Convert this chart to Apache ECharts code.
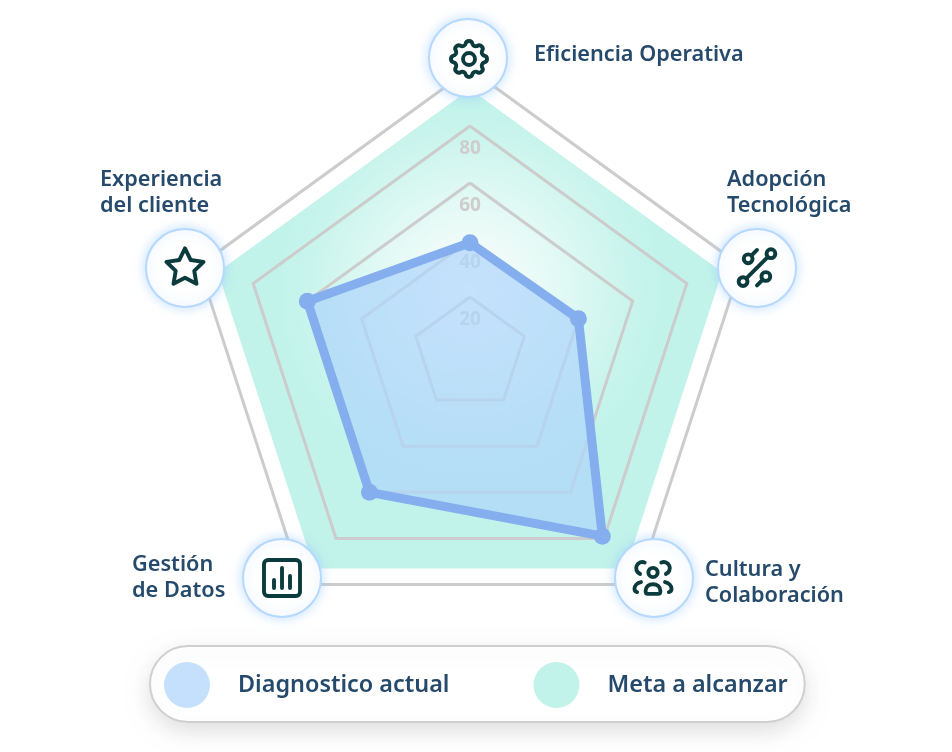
<!DOCTYPE html>
<html><head><meta charset="utf-8">
<style>html,body{margin:0;padding:0;background:#fff}#c{width:952px;height:752px}</style>
<script src="https://cdn.jsdelivr.net/npm/echarts@6/dist/echarts.min.js"></script>
</head><body><div id="c"></div>
<script>
// Data
const categories = ['Eficiencia Operativa','Experiencia\ndel cliente','Gestión\nde Datos','Cultura y\nColaboración','Adopción\nTecnológica'];
const diagnosticoActual = [39, 60, 60, 79, 40];
const metaAlcanzar = [93, 93, 93, 93, 93];
const axisMax = 100;
const tickLabels = ['20','40','60','80'];
const seriesNames = ['Diagnostico actual','Meta a alcanzar'];

// Style / layout
const TEXT = '#264a6b', ICON = '#0c3b3e', RING = '#cccccc', FONT = '"Noto Sans", sans-serif';
const labelLayout = [[534,55],[100,193],[132,578],[705,583],[727,193]];
const iconLayout = [[468,58],[185,268],[282,578],[654,578],[757,268]];
const iconOffset = [[1,1],[0,-1],[0,0],[-1,0],[0,0]];
const iconScale = [2,1.86,2,1.85,1.7];
const iconPaths = [
 'M10.325 4.317c.426 -1.756 2.924 -1.756 3.35 0a1.724 1.724 0 0 0 2.573 1.066c1.543 -.94 3.31 .826 2.37 2.37a1.724 1.724 0 0 0 1.065 2.572c1.756 .426 1.756 2.924 0 3.35a1.724 1.724 0 0 0 -1.066 2.573c.94 1.543 -.826 3.31 -2.37 2.37a1.724 1.724 0 0 0 -2.572 1.065c-.426 1.756 -2.924 1.756 -3.35 0a1.724 1.724 0 0 0 -2.573 -1.066c-1.543 .94 -3.31 -.826 -2.37 -2.37a1.724 1.724 0 0 0 -1.065 -2.572c-1.756 -.426 -1.756 -2.924 0 -3.35a1.724 1.724 0 0 0 1.066 -2.573c-.94 -1.543 .826 -3.31 2.37 -2.37c1 .608 2.296 .07 2.572 -1.065z M9 12a3 3 0 1 0 6 0a3 3 0 1 0 -6 0',
 'M12 17.75l-6.172 3.245l1.179 -6.873l-5 -4.867l6.9 -1l3.086 -6.253l3.086 6.253l6.9 1l-5 4.867l1.179 6.873z',
 'M3 5a2 2 0 0 1 2-2h14a2 2 0 0 1 2 2v14a2 2 0 0 1-2 2H5a2 2 0 0 1-2-2z M8 13v4 M12 7v10 M16 11v6',
 'M9.5 9a2.5 2.5 0 1 0 5 0a2.5 2.5 0 1 0 -5 0 M8 19c0-2.2 1.8-3.6 4-3.6s4 1.4 4 3.6c0 1-.5 1.6-1.2 1.6h-5.6c-.7 0-1.2-.6-1.2-1.6z M7.5 3.6a3.2 3.2 0 0 0 -2.5 6.2 M16.5 3.6a3.2 3.2 0 0 1 2.5 6.2 M5.5 14.2c-2 .4-3.5 2-3.5 3.6c0 .9.5 1.6 1.4 1.8 M18.5 14.2c2 .4 3.5 2 3.5 3.6c0 .9-.5 1.6-1.4 1.8',
 'M4.2 6.6a2.6 2.6 0 1 0 5.2 0a2.6 2.6 0 1 0 -5.2 0 M17.6 3.6a2.6 2.6 0 1 0 5.2 0a2.6 2.6 0 1 0 -5.2 0 M1.2 20a2.6 2.6 0 1 0 5.2 0a2.6 2.6 0 1 0 -5.2 0 M14.6 17a2.6 2.6 0 1 0 5.2 0a2.6 2.6 0 1 0 -5.2 0 M8.7 4.7L12 1.4 M18.4 5.4L5.6 18.2 M15.4 18.8L12 22.2'
];
iconPaths.forEach((d,i)=>echarts.graphic.registerShape('icon'+i, echarts.graphic.extendPath(d,{})));

const graphicEls = [];
iconLayout.forEach((p,i)=>{
  const s = iconScale[i];
  graphicEls.push({type:'circle',z:100,shape:{cx:p[0],cy:p[1],r:39},
    style:{fill:'#fff',stroke:'#b5d8fd',lineWidth:2,shadowBlur:12,shadowColor:'rgba(140,195,255,0.5)'}});
  graphicEls.push({type:'icon'+i,z:101,x:p[0]+iconOffset[i][0]-12*s,y:p[1]+iconOffset[i][1]-12*s,scaleX:s,scaleY:s,
    style:{fill:'none',stroke:ICON,lineWidth:3.9/s,lineCap:'round',lineJoin:'round'}});
});
categories.forEach((c,i)=>{
  graphicEls.push({type:'text',z:102,x:labelLayout[i][0],y:labelLayout[i][1],
    style:{text:c,fill:TEXT,font:'600 21.7px '+FONT,lineHeight:26,textVerticalAlign:'middle',textAlign:'left'}});
});

const chart = echarts.init(document.getElementById('c'),null,{renderer:'canvas'});
chart.setOption({
  animation:false,
  backgroundColor:'#fff',
  legend:{
    left:150, top:646, orient:'horizontal', selectedMode:false,
    padding:[16,17,14,14], itemGap:84, itemWidth:46, itemHeight:46,
    backgroundColor:'#fff', borderColor:'#cfcfcf', borderWidth:2, borderRadius:38,
    shadowBlur:22, shadowColor:'rgba(0,0,0,0.12)', shadowOffsetY:8,
    textStyle:{color:TEXT,fontFamily:FONT,fontWeight:600,fontSize:23.4,padding:[5,0,0,23]},
    data:[
      {name:seriesNames[0],icon:'circle',itemStyle:{color:'#c5e0fd',borderWidth:0}},
      {name:seriesNames[1],icon:'circle',itemStyle:{color:'#c2f3ea',borderWidth:0}}
    ]
  },
  radar:{
    z:2,
    center:[470,354], radius:285, startAngle:90, splitNumber:5, shape:'polygon',
    axisName:{show:false},
    axisLine:{show:false}, axisTick:{show:false},
    splitArea:{show:false},
    splitLine:{show:true,lineStyle:{color:RING,width:3}},
    axisLabel:{show:false},
    indicator:categories.map((name,i)=>({name,max:axisMax,min:0,
      axisLabel:i===0?{show:true,color:'#cfcccc',fontWeight:700,fontSize:19,fontFamily:FONT,margin:0,
        verticalAlign:'top',align:'center',padding:[13,0,0,0],
        formatter:v=>tickLabels.includes(String(v))?String(v):''}:{show:false}}))
  },
  series:[
    {name:seriesNames[1],type:'radar',z:1,symbol:'none',lineStyle:{width:0},
     itemStyle:{color:'#c2f3ea'},
     areaStyle:{opacity:1,color:{type:'radial',x:0.5,y:0.42,r:0.4,colorStops:[
       {offset:0,color:'#ffffff'},{offset:0.26,color:'#effbf9'},{offset:0.56,color:'#dcf8f2'},
       {offset:0.85,color:'#c8f4ec'},{offset:1,color:'#c2f3ea'}]}},
     data:[{name:seriesNames[1],value:metaAlcanzar}]},
    {name:seriesNames[0],type:'radar',z:3,symbol:'none',
     itemStyle:{color:'#aed6fb'},lineStyle:{width:0},
     areaStyle:{color:'#aed6fb',opacity:0.72},
     data:[{name:seriesNames[0],value:diagnosticoActual}]},
    {name:seriesNames[0],type:'radar',z:4,symbol:'circle',symbolSize:17,
     itemStyle:{color:'#85aeee'},lineStyle:{color:'#85aeee',width:9,join:'round'},
     data:[{name:seriesNames[0],value:diagnosticoActual}]}
  ],
  graphic:{elements:graphicEls}
});
</script></body></html>
